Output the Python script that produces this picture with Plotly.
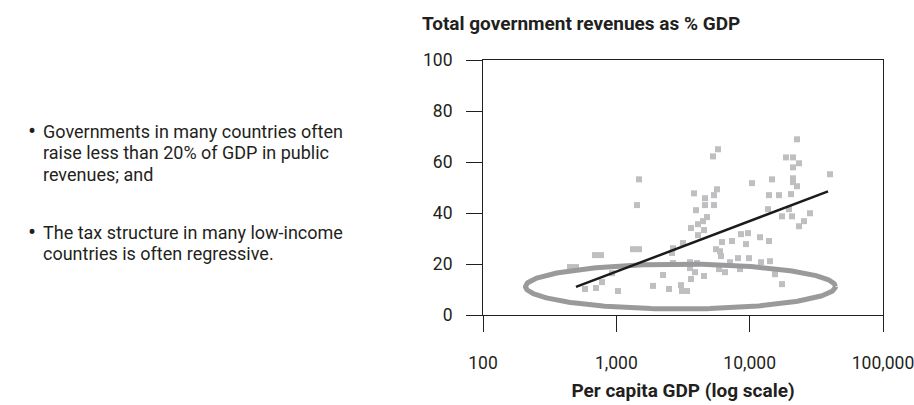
import numpy as np
import plotly.graph_objects as go

# Per capita GDP (US$, log scale) and total government revenue (% of GDP)
gdp_per_capita = [
    692, 767, 449, 498, 781, 582, 704, 1029, 928, 5788,
    5309, 1479, 1429, 3823, 5689, 4624, 5401, 4624, 5401, 3958,
    4786, 4467, 4098, 3631, 4545, 4098, 1334, 1479, 2661, 3162,
    2616, 8610, 9716, 6202, 7370, 9387, 5591, 5992, 6095, 8175,
    9886, 3568, 4027, 2661, 3568, 3890, 4545, 2239, 3631, 5888,
    6531, 8462, 7120, 1884, 2483, 3055, 3108, 3388, 22650, 18730,
    21130, 23440, 21130, 40040, 10410, 14710, 21130, 21130, 22650, 13960,
    16600, 20420, 13730, 19720, 17480, 20770, 28350, 25560, 23440, 11950,
    13960, 12160, 14210, 15490, 17480,
]
revenue_pct_gdp = [
    23.5, 23.5, 18.8, 18.8, 12.9, 10.2, 10.6, 9.4, 16.4, 65.0,
    62.2, 53.2, 43.1, 47.7, 49.3, 45.8, 47.0, 43.1, 43.1, 41.1,
    38.4, 36.8, 35.6, 34.1, 33.3, 31.3, 25.8, 25.8, 26.2, 28.2,
    24.3, 31.7, 32.1, 28.6, 29.0, 27.8, 25.8, 25.0, 23.1, 22.3,
    22.3, 20.7, 20.4, 20.4, 18.4, 16.8, 15.3, 15.7, 14.1, 18.0,
    16.8, 18.0, 20.7, 11.4, 10.2, 11.7, 9.4, 9.4, 68.9, 61.8,
    61.8, 59.5, 57.9, 55.2, 51.7, 53.2, 53.6, 52.1, 50.5, 47.0,
    47.0, 47.4, 41.5, 41.5, 38.7, 38.7, 39.9, 36.8, 34.8, 30.5,
    29.0, 20.7, 21.1, 16.0, 12.1,
]

# Fitted trend line end points
trend_gdp = [498, 38700]
trend_revenue = [11.0, 48.5]

# Highlighted low-revenue group (ellipse in log-GDP space)
ellipse_center_log_gdp = 3.481
ellipse_half_width_log = 1.1625
ellipse_center_revenue = 11.15
ellipse_half_height = 8.8

x_tick_values = [100, 1000, 10000, 100000]
x_tick_labels = ["100", "1,000", "10,000", "100,000"]
y_tick_values = [0, 20, 40, 60, 80, 100]

bullet_lines = [
    ["Governments in many countries often",
     "raise less than 20% of GDP in public",
     "revenues; and"],
    ["The tax structure in many low-income",
     "countries is often regressive."],
]

FONT = "Roboto, Arial, sans-serif"
TEXT_COLOR = "#231f20"

fig = go.Figure()

fig.add_trace(go.Scatter(
    x=gdp_per_capita, y=revenue_pct_gdp, mode="markers",
    marker=dict(symbol="square", size=6, color="#bfbfc2", line=dict(width=0)),
    hoverinfo="x+y", showlegend=False,
))

t = np.linspace(0, 2 * np.pi, 361)
ell_x = 10 ** (ellipse_center_log_gdp + ellipse_half_width_log * np.cos(t))
ell_y = ellipse_center_revenue + ellipse_half_height * np.sin(t)
fig.add_trace(go.Scatter(
    x=ell_x, y=ell_y, mode="lines",
    line=dict(color="#9a9a9c", width=5),
    hoverinfo="skip", showlegend=False,
))

fig.add_trace(go.Scatter(
    x=trend_gdp, y=trend_revenue, mode="lines",
    line=dict(color="#1e1a1b", width=2.5),
    hoverinfo="skip", showlegend=False,
))

# Plot area geometry (pixels)
L, R, T, B = 483, 31, 60, 90
W, H = 914, 405
pw, ph = W - L - R, H - T - B


def px_to_paper(px, py):
    return (px - L) / pw, (H - B - py) / ph


annotations = []
tx, ty = px_to_paper(420, 23)
annotations.append(dict(
    text="<b>Total government revenues as % GDP</b>", x=tx, y=ty,
    xref="paper", yref="paper", xanchor="left", yanchor="middle",
    showarrow=False, font=dict(family=FONT, size=19, color=TEXT_COLOR),
))

block_tops = [131, 232]
line_step = 21.5
for block, top in zip(bullet_lines, block_tops):
    bx, by = px_to_paper(26, top)
    annotations.append(dict(
        text="•", x=bx, y=by, xref="paper", yref="paper",
        xanchor="left", yanchor="middle", showarrow=False,
        font=dict(family=FONT, size=24, color=TEXT_COLOR),
    ))
    for i, line in enumerate(block):
        lx, ly = px_to_paper(41, top + i * line_step)
        annotations.append(dict(
            text=line, x=lx, y=ly, xref="paper", yref="paper",
            xanchor="left", yanchor="middle", showarrow=False,
            font=dict(family=FONT, size=18, color=TEXT_COLOR),
        ))

axis_common = dict(
    showline=True, linecolor="#231f20", linewidth=1, mirror=True,
    ticks="outside", ticklen=16, tickcolor="#231f20", tickwidth=1,
    showgrid=False, zeroline=False, automargin=False,
    ticklabeloverflow="allow",
    tickfont=dict(family=FONT, size=17.5, color=TEXT_COLOR),
)

fig.update_layout(
    width=W, height=H,
    margin=dict(l=L, r=R, t=T, b=B, pad=0),
    paper_bgcolor="white", plot_bgcolor="white",
    annotations=annotations,
    xaxis=dict(
        type="log", range=[2, 5],
        tickvals=x_tick_values, ticktext=x_tick_labels,
        ticklabelstandoff=16,
        title=dict(text="<b>Per capita GDP (log scale)</b>", standoff=11,
                   font=dict(family=FONT, size=19, color=TEXT_COLOR)),
        **axis_common,
    ),
    yaxis=dict(
        range=[0, 100], tickvals=y_tick_values,
        ticklabelstandoff=10,
        **axis_common,
    ),
)

fig.write_html("out.html")
